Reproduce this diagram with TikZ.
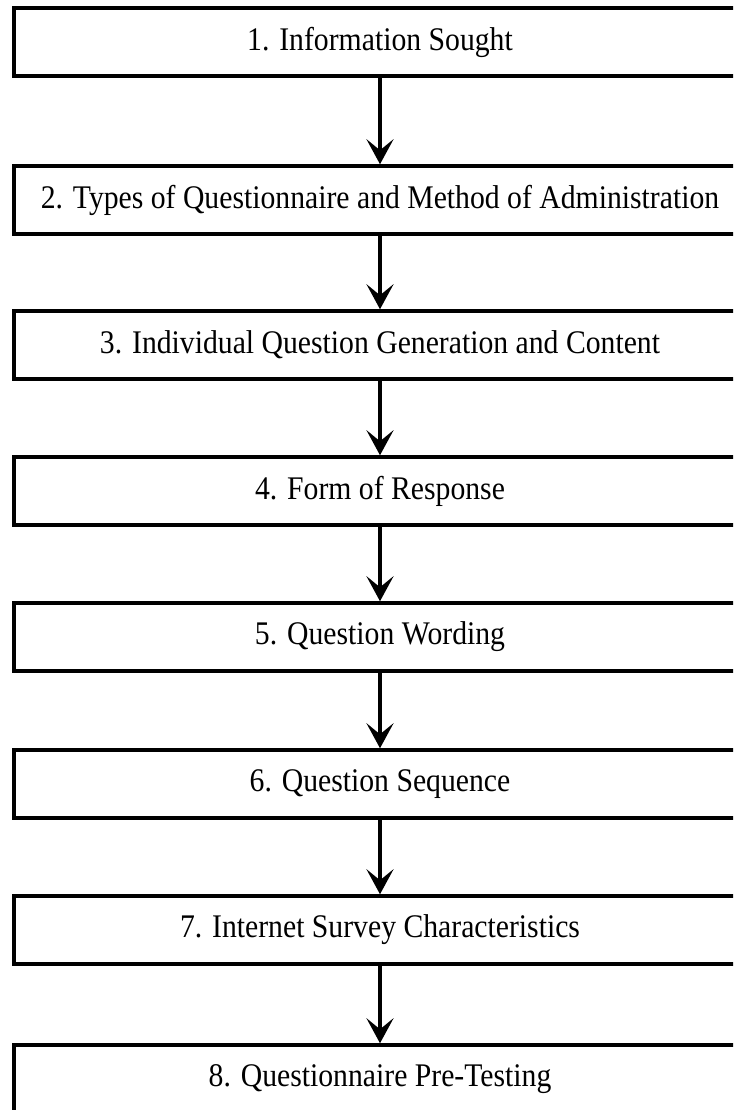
\documentclass[tikz,border=0pt]{standalone}
\usepackage{fontspec}
\setmainfont{Liberation Serif}
\newfontfamily\boxfont[FakeStretch=0.9]{Liberation Serif}
\usetikzlibrary{arrows.meta}
\begin{document}
\begin{tikzpicture}[x=1pt,y=1pt,
  stagebox/.style={draw=black, line width=3.5pt, fill=white,
    minimum width=732pt, minimum height=68pt, inner sep=0pt,
    font=\boxfont\fontsize{33}{38}\selectfont},
  flowarrow/.style={line width=3.5pt,
    -{Stealth[length=25pt,width=27pt,inset=11pt]}}]
\useasboundingbox (0,0) rectangle (733,-1110);
\clip (0,0) rectangle (733,-1110);
\fill[white] (0,0) rectangle (733,-1110);

\node[stagebox] (s1) at (380,-42)  {1. Information Sought};
\node[stagebox] (s2) at (380,-200) {2. Types of Questionnaire and Method of Administration};
\node[stagebox] (s3) at (380,-345) {3. Individual Question Generation and Content};
\node[stagebox] (s4) at (380,-491) {4. Form of Response};
\node[stagebox] (s5) at (380,-637) {5. Question Wording};
\node[stagebox] (s6) at (380,-784) {6. Question Sequence};
\node[stagebox] (s7) at (380,-930) {7. Internet Survey Characteristics};
\node[stagebox] (s8) at (380,-1079) {8. Questionnaire Pre-Testing};

\foreach \a/\b in {s1/s2,s2/s3,s3/s4,s4/s5,s5/s6,s6/s7,s7/s8}
  \draw[flowarrow] (\a.south) -- (\b.north);
\end{tikzpicture}
\end{document}
